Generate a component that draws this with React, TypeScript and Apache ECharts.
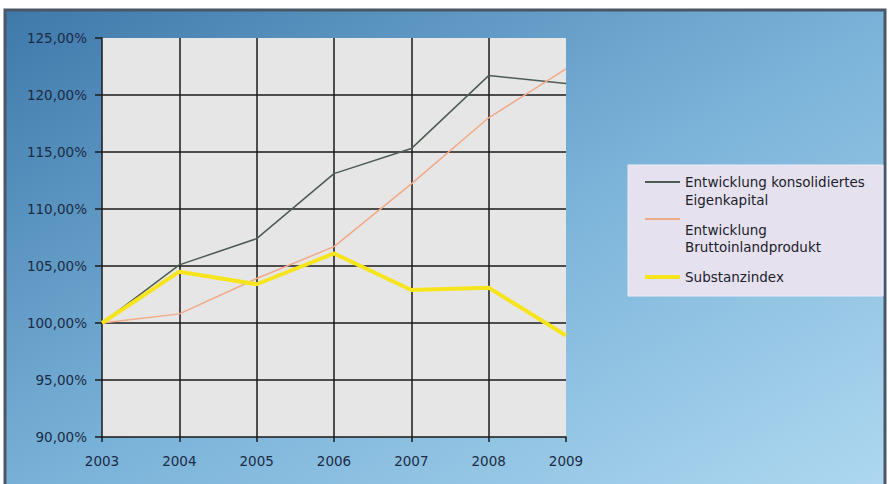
import React, { useEffect, useRef } from "react";
import * as echarts from "echarts";

// Jahre auf der x-Achse
const years = ["2003", "2004", "2005", "2006", "2007", "2008", "2009"];

// Entwicklung in Prozent (2003 = 100 %)
const eigenkapital = [100, 105.1, 107.4, 113.1, 115.3, 121.7, 121.0];
const bruttoinland = [100, 100.8, 103.9, 106.7, 112.2, 118.0, 122.3];
const substanzindex = [100, 104.5, 103.4, 106.1, 102.9, 103.1, 98.9];

const seriesNames = [
  "Entwicklung konsolidiertes Eigenkapital",
  "Entwicklung Bruttoinlandprodukt",
  "Substanzindex",
];
// Legendentexte, zweizeilig umbrochen; {sp| } ist ein unsichtbarer Abstandshalter
const legendLabels = [
  "{sp| }\n{t|Entwicklung konsolidiertes}\n{t|Eigenkapital}",
  "{sp| }\n{t|Entwicklung}\n{t|Bruttoinlandprodukt}",
  "Substanzindex",
];

const colors = ["#4d5b52", "#f2a985", "#f6e51c"];
const lineWidths = [1.5, 1.5, 4];

const FONT = "'DejaVu Sans', Verdana, sans-serif";
const LABEL_COLOR = "#1b2b45";
const LEGEND_COLOR = "#1d1d2b";
const FONT_SIZE = 13.5;

export default function App() {
  const ref = useRef<HTMLDivElement>(null);

  useEffect(() => {
    document.body.style.margin = "0";
    if (!ref.current) return;
    const chart = echarts.init(ref.current, null, { renderer: "svg" });

    const legendBase = {
      left: 645,
      padding: 0,
      itemWidth: 35,
      itemGap: 0,
      icon: "rect",
      selectedMode: false,
      formatter: (name: string) => legendLabels[seriesNames.indexOf(name)],
    };

    const legendText = (gap: number, lineHeight: number) => ({
      fontFamily: FONT,
      fontSize: FONT_SIZE,
      color: LEGEND_COLOR,
      lineHeight,
      rich: {
        sp: { fontSize: 1, lineHeight: gap },
        t: {
          fontFamily: FONT,
          fontSize: FONT_SIZE,
          color: LEGEND_COLOR,
          lineHeight,
        },
      },
    });

    chart.setOption({
      animation: false,
      graphic: [
        {
          type: "rect",
          z: -10,
          shape: { x: 5, y: 10, width: 880, height: 490 },
          style: {
            fill: new echarts.graphic.LinearGradient(0, 0, 1, 1, [
              { offset: 0, color: "#3f79aa" },
              { offset: 0.5, color: "#79b2d8" },
              { offset: 1, color: "#b0d9f1" },
            ]),
            stroke: "#4b5766",
            lineWidth: 3,
          },
        },
        {
          type: "rect",
          z: 1,
          shape: { x: 628, y: 165, width: 255, height: 131 },
          style: { fill: "#e5e1ef", stroke: "#eeecf6", lineWidth: 1 },
        },
      ],
      grid: {
        left: 102,
        right: 323,
        top: 38,
        bottom: 47,
        show: true,
        backgroundColor: "#e6e6e6",
        borderWidth: 0,
      },
      legend: [
        {
          ...legendBase,
          top: 155,
          itemHeight: 2,
          data: [seriesNames[0]],
          textStyle: legendText(18, 18),
        },
        {
          ...legendBase,
          top: 182.5,
          itemHeight: 2,
          data: [seriesNames[1]],
          textStyle: legendText(39, 17),
        },
        {
          ...legendBase,
          top: 268.5,
          itemHeight: 4,
          data: [seriesNames[2]],
          textStyle: {
            fontFamily: FONT,
            fontSize: FONT_SIZE,
            color: LEGEND_COLOR,
            lineHeight: 17,
          },
        },
      ],
      xAxis: {
        type: "category",
        data: years,
        boundaryGap: false,
        axisLine: { lineStyle: { color: "#1a1a1a", width: 1.5 } },
        axisTick: { length: 5, lineStyle: { color: "#1a1a1a", width: 1.5 } },
        axisLabel: {
          margin: 17,
          fontFamily: FONT,
          fontSize: FONT_SIZE,
          color: LABEL_COLOR,
        },
        splitLine: {
          show: true,
          showMinLine: false,
          showMaxLine: false,
          lineStyle: { color: "#1a1a1a", width: 1.5 },
        },
      },
      yAxis: {
        type: "value",
        min: 90,
        max: 125,
        interval: 5,
        axisLine: { show: true, lineStyle: { color: "#1a1a1a", width: 1.5 } },
        axisTick: { show: true, length: 7, lineStyle: { color: "#1a1a1a", width: 1.5 } },
        axisLabel: {
          margin: 15,
          fontFamily: FONT,
          fontSize: FONT_SIZE,
          color: LABEL_COLOR,
          formatter: (v: number) => v.toFixed(2).replace(".", ",") + "%",
        },
        splitLine: {
          show: true,
          showMinLine: false,
          showMaxLine: false,
          lineStyle: { color: "#1a1a1a", width: 1.5 },
        },
      },
      series: [eigenkapital, bruttoinland, substanzindex].map((data, i) => ({
        name: seriesNames[i],
        type: "line",
        data,
        symbol: "none",
        z: 3 + i,
        itemStyle: { color: colors[i] },
        lineStyle: { color: colors[i], width: lineWidths[i] },
      })),
    });

    return () => chart.dispose();
  }, []);

  return <div ref={ref} style={{ width: 889, height: 484 }} />;
}
